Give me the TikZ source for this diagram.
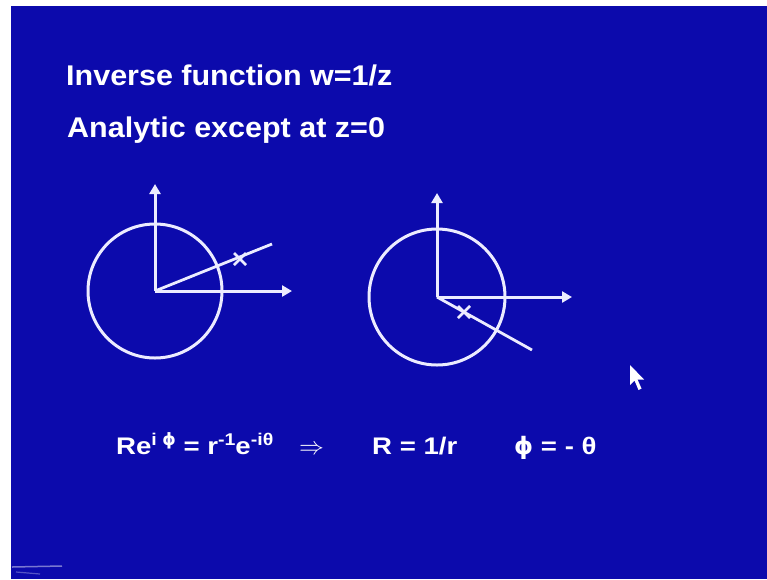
\documentclass[tikz,border=0pt]{standalone}
\usepackage{fontspec}
\setmainfont{Liberation Sans}
\newfontfamily\slidefont[FakeStretch=1.07]{Liberation Sans}
\newfontfamily\eqfont[FakeStretch=1.15]{Liberation Sans}
\newfontfamily\grk{DejaVu Sans}
\usetikzlibrary{arrows.meta}
\definecolor{slide}{RGB}{12,10,172}
\definecolor{ink}{RGB}{236,236,255}
\newcommand{\sups}[1]{\raisebox{9pt}{\fontsize{17}{17}\selectfont #1}}
\newcommand{\phisym}{{\grk\bfseries ϕ}}
\begin{document}
\begin{tikzpicture}[x=1pt,y=-1pt,
  axis/.style={draw=ink,line width=3pt,-{Triangle[width=11pt,length=10pt]}},
  ray/.style={draw=ink,line width=2.8pt},
  ring/.style={draw=ink,line width=3pt},
  crossmark/.style={draw=ink,line width=2.8pt},
  title/.style={text=white,font=\slidefont\bfseries\fontsize{28.5}{34}\selectfont,anchor=base west,inner sep=0pt},
  eq/.style={text=white,font=\eqfont\bfseries\fontsize{24}{28}\selectfont,anchor=base west,inner sep=0pt}]
\useasboundingbox (0,0) rectangle (767,579);
\fill[white] (0,0) rectangle (767,579);
\fill[slide] (11,6) rectangle (767,579);

% titles
\node[title] (t1) at (66,85) {Inverse function w=1/z};
\node[title] (t2) at (67,137) {Analytic except at z=0};

% left diagram
\coordinate (o1) at (155,291);
\coordinate (y1) at (155,184);
\coordinate (x1) at (292,291);
\coordinate (r1) at (272,244);
\coordinate (c1) at (240,259);
\draw[ring] (o1) circle[radius=67];
\draw[axis] (o1) -- (y1);
\draw[axis] (o1) -- (x1);
\draw[ray] (o1) -- (r1);
\draw[crossmark] (c1) +(-6,-6) -- +(6,6) (c1) +(-6,6) -- +(6,-6);

% right diagram
\coordinate (o2) at (437,297);
\coordinate (y2) at (437,193);
\coordinate (x2) at (572,297);
\coordinate (r2) at (532,350);
\coordinate (c2) at (464,312);
\draw[ring] (o2) circle[radius=68];
\draw[axis] (o2) -- (y2);
\draw[axis] (o2) -- (x2);
\draw[ray] (o2) -- (r2);
\draw[crossmark] (c2) +(-6,-6) -- +(6,6) (c2) +(-6,6) -- +(6,-6);

% cursor
\fill[white] (630,365) -- (630,385) -- (634.5,380.5) -- (638.5,390) -- (641.5,388.5) -- (637.5,379.5) -- (644,379.5) -- cycle;

% faint artefact bottom left
\draw[slide!55!white,line width=1.5pt] (12,567) -- (62,566);
\draw[slide!70!white,line width=1.2pt] (16,572) -- (40,574);

% equation
\node[eq] (e1) at (116,454) {Re\sups{i\ \phisym}\ = r\sups{-1}e\sups{-iθ}};
\node[eq] (e2) at (299,454) {\fontsize{27}{30}\selectfont\mdseries$\Rightarrow$};
\node[eq] (e3) at (372,454) {R = 1/r};
\node[eq] (e4) at (514,454) {\phisym\ = - θ};
\end{tikzpicture}
\end{document}
